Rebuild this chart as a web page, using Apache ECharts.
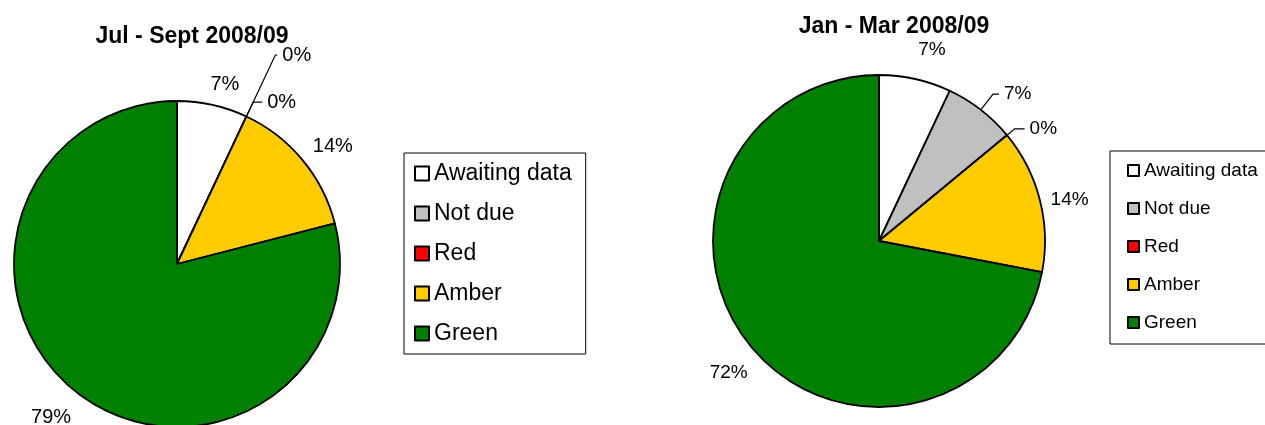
<!DOCTYPE html>
<html>
<head>
<meta charset="utf-8">
<script src="https://cdn.jsdelivr.net/npm/echarts@6/dist/echarts.min.js"></script>
<style>
html,body{margin:0;padding:0;background:#fff;}
#chart{width:1265px;height:425px;}
</style>
</head>
<body>
<div id="chart"></div>
<script>
// ---- data ----
var categories = ['Awaiting data', 'Not due', 'Red', 'Amber', 'Green'];
var colors = ['#FFFFFF', '#C0C0C0', '#FF0000', '#FFCC00', '#008000'];
var julSeptValues = [7, 0, 0, 14, 79];
var janMarValues = [7, 7, 0, 14, 72];
var julSeptTitle = 'Jul - Sept 2008/09';
var janMarTitle = 'Jan - Mar 2008/09';

var FONT = '"Liberation Sans", Arial, sans-serif';

// label placement styles per slice (leader lengths / nudges), separate from data
var leftLabelStyle = [
  {len: 18, len2: 0, line: false, dx: -11, dy: -3},
  {len: 68, len2: 2, line: true, dx: 0, dy: 0},
  {len: 16, len2: 9, line: true, dx: 0, dy: 0},
  {len: 12, len2: 0, line: false, dx: -4, dy: -6},
  {len: 18, len2: 0, line: false, dx: 10, dy: 10}
];
var rightLabelStyle = [
  {len: 32, len2: 0, line: false, dx: -9, dy: 2},
  {len: 20, len2: 6, line: true, dx: 0, dy: 0},
  {len: 10, len2: 10, line: true, dx: 0, dy: 0},
  {len: 6, len2: 0, line: false, dx: 0, dy: 2},
  {len: 20, len2: 0, line: false, dx: 17, dy: 13}
];
var labelStyles = [leftLabelStyle, rightLabelStyle];

function buildData(values, styles) {
  return categories.map(function (name, i) {
    return {
      name: name,
      value: values[i],
      itemStyle: {color: colors[i]},
      labelLine: {
        show: styles[i].line,
        length: styles[i].len,
        length2: styles[i].len2,
        smooth: false,
        lineStyle: {color: '#000', width: 1.2}
      }
    };
  });
}

function pieSeries(values, styles, center, radius, fontSize) {
  return {
    type: 'pie',
    center: center,
    radius: radius,
    startAngle: 90,
    clockwise: true,
    avoidLabelOverlap: false,
    minShowLabelAngle: 0,
    silent: true,
    emphasis: {disabled: true},
    itemStyle: {borderColor: '#000', borderWidth: 1.8},
    label: {
      show: true,
      position: 'outside',
      color: '#000',
      fontFamily: FONT,
      fontSize: fontSize,
      distanceToLabelLine: 5,
      formatter: function (p) { return p.value + '%'; }
    },
    labelLayout: function (p) {
      var s = labelStyles[p.seriesIndex][p.dataIndex];
      if (s.line) { return {}; }
      return {dx: s.dx, dy: s.dy};
    },
    data: buildData(values, styles)
  };
}

var chart = echarts.init(document.getElementById('chart'), null, {renderer: 'canvas'});
chart.setOption({
  animation: false,
  backgroundColor: '#fff',
  title: [
    {
      text: julSeptTitle, left: 187, top: 20, textAlign: 'center',
      textStyle: {fontFamily: FONT, fontSize: 23, fontWeight: 'bold', color: '#000'}
    },
    {
      text: janMarTitle, left: 889, top: 10, textAlign: 'center',
      textStyle: {fontFamily: FONT, fontSize: 23, fontWeight: 'bold', color: '#000'}
    }
  ],
  legend: [
    {
      orient: 'vertical', left: 404, top: 153,
      data: categories,
      icon: 'rect', itemWidth: 14, itemHeight: 14, itemGap: 17,
      borderColor: '#000', borderWidth: 1,
      padding: [9, 14, 9, 10],
      selectedMode: false,
      textStyle: {fontFamily: FONT, fontSize: 23, color: '#000'}
    },
    {
      orient: 'vertical', left: 1110, top: 151,
      data: categories,
      icon: 'rect', itemWidth: 11, itemHeight: 11, itemGap: 19,
      borderColor: '#000', borderWidth: 1,
      padding: [10, 30, 12, 17],
      selectedMode: false,
      textStyle: {fontFamily: FONT, fontSize: 19, color: '#000'}
    }
  ],
  series: [
    pieSeries(julSeptValues, leftLabelStyle, [177, 264], 163, 20),
    pieSeries(janMarValues, rightLabelStyle, [879, 241], 166, 19)
  ]
});
</script>
</body>
</html>
